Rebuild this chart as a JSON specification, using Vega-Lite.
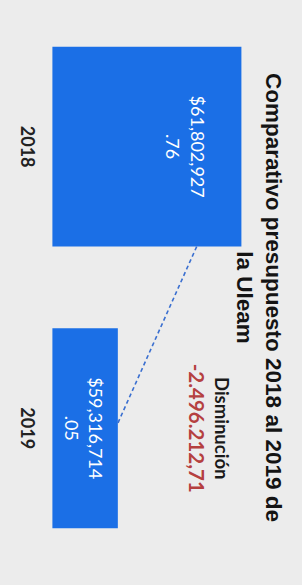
{
  "$schema": "https://vega.github.io/schema/vega-lite/v6.json",
  "width": 302,
  "height": 585,
  "autosize": {"type": "none"},
  "padding": 0,
  "background": "#ececec",
  "config": {"view": {"stroke": null}, "font": "Lato"},
  "title": {
    "text": ["Comparativo presupuesto 2018 al 2019 de", "la Uleam"],
    "orient": "right",
    "anchor": "middle",
    "frame": "group",
    "offset": -70,
    "dx": 5,
    "font": "Liberation Sans",
    "fontSize": 22.5,
    "fontWeight": "bold",
    "color": "#141414",
    "lineHeight": 29
  },
  "datasets": {
    "budget": [
      {"year": "2018", "budget": 61802927.76, "label": ["$61,802,927", ".76"]},
      {"year": "2019", "budget": 59316714.05, "label": ["$59,316,714", ".05"]}
    ],
    "connector": [
      {"from": "2018", "to": "2019", "start": 60903000, "end": 59316714.05}
    ],
    "note": [
      {"year": "2019", "pos": 61392000, "text": "Disminución"}
    ],
    "delta": [
      {"year": "2019", "pos": 60869000, "text": "-2.496.212,71"}
    ]
  },
  "layer": [
    {
      "data": {"name": "budget"},
      "mark": {"type": "bar", "color": "#1b6fe6"},
      "encoding": {
        "y": {
          "field": "year",
          "type": "nominal",
          "scale": {"domain": ["2018", "2019"], "paddingInner": 0.29, "paddingOuter": 0.1837, "align": 0.451},
          "axis": {
            "orient": "left",
            "offset": -34,
            "title": null,
            "domain": false,
            "ticks": false,
            "labelAngle": 90,
            "labelAlign": "center",
            "labelBaseline": "top",
            "labelPadding": 0,
            "labelFont": "Lato",
            "labelFontSize": 18,
            "labelFontWeight": "bold",
            "labelColor": "#222222"
          }
        },
        "x": {
          "field": "budget",
          "type": "quantitative",
          "scale": {"domain": [56945700, 63022200], "nice": false, "zero": false},
          "axis": null
        },
        "x2": {"datum": 58000000}
      }
    },
    {
      "data": {"name": "budget"},
      "transform": [{"filter": "datum.year === '2018'"}],
      "mark": {"type": "text", "angle": 90, "align": "center", "baseline": "middle", "dy": 45, "color": "white", "font": "Lato", "fontSize": 18, "lineHeight": 25},
      "encoding": {
        "x": {"field": "budget", "type": "quantitative"},
        "y": {"field": "year", "type": "nominal"},
        "text": {"field": "label"}
      }
    },
    {
      "data": {"name": "budget"},
      "transform": [{"filter": "datum.year === '2019'"}],
      "mark": {"type": "text", "angle": 90, "align": "center", "baseline": "middle", "dy": 24, "color": "white", "font": "Lato", "fontSize": 18, "lineHeight": 24},
      "encoding": {
        "x": {"field": "budget", "type": "quantitative"},
        "y": {"field": "year", "type": "nominal"},
        "text": {"field": "label"}
      }
    },
    {
      "data": {"name": "connector"},
      "mark": {"type": "rule", "color": "#3a6fd0", "strokeDash": [4, 3], "strokeWidth": 1.6},
      "encoding": {
        "x": {"field": "start", "type": "quantitative"},
        "x2": {"field": "end"},
        "y": {"field": "from", "type": "nominal", "bandPosition": 1},
        "y2": {"field": "to", "bandPosition": 0.475}
      }
    },
    {
      "data": {"name": "note"},
      "mark": {"type": "text", "angle": 90, "align": "center", "baseline": "middle", "font": "Lato", "fontWeight": "bold", "fontSize": 18.5, "color": "#1a1a1a"},
      "encoding": {
        "x": {"field": "pos", "type": "quantitative"},
        "y": {"field": "year", "type": "nominal"},
        "text": {"field": "text"}
      }
    },
    {
      "data": {"name": "delta"},
      "mark": {"type": "text", "angle": 90, "align": "center", "baseline": "middle", "font": "Lato", "fontWeight": "bold", "fontSize": 20.5, "color": "#b5403f"},
      "encoding": {
        "x": {"field": "pos", "type": "quantitative"},
        "y": {"field": "year", "type": "nominal"},
        "text": {"field": "text"}
      }
    }
  ]
}
